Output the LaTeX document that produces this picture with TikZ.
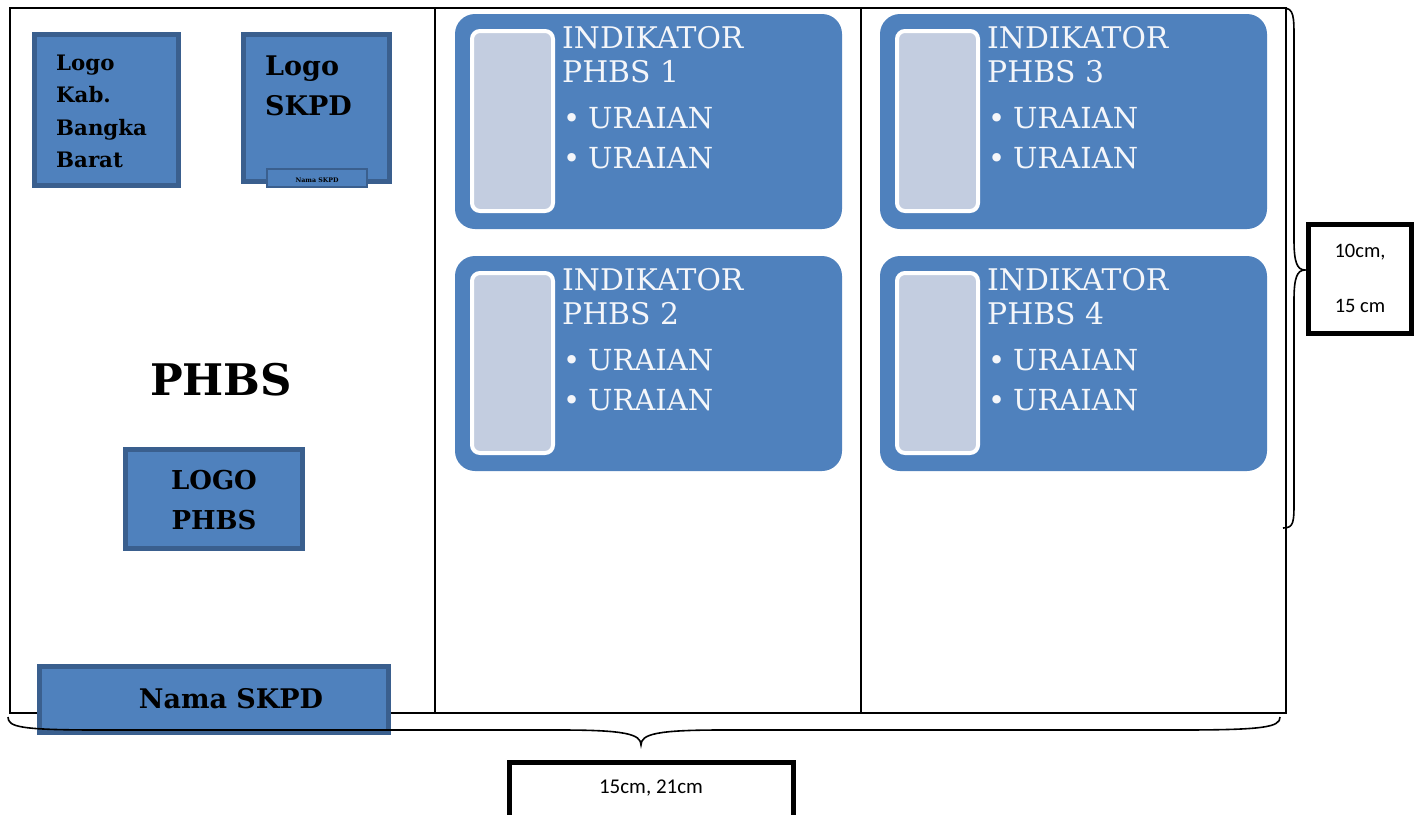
\documentclass[tikz,border=0pt]{standalone}
\usepackage{fontspec}
\setmainfont{DejaVu Serif}
\newfontfamily\dimfont{Carlito}
\definecolor{fillblue}{HTML}{4F81BD}
\definecolor{bordblue}{HTML}{3A5F8E}
\definecolor{panel}{HTML}{C3CDE0}
\definecolor{wtext}{HTML}{F4F6FA}
\tikzset{
  logobox/.style={draw=bordblue, line width=5pt, fill=fillblue, inner sep=0pt},
  thinbox/.style={draw=bordblue, line width=2pt, fill=fillblue, inner sep=0pt},
  indbox/.style={fill=fillblue, rounded corners=20pt},
  panelbox/.style={draw=white, line width=4pt, fill=panel, rounded corners=8pt},
  btxt/.style={inner sep=0pt, font=\bfseries\fontsize{#1}{#1}\selectfont},
  itxt/.style={inner sep=0pt, text=wtext, font=\fontsize{#1}{#1}\selectfont, anchor=base west},
  frame/.style={line width=1.6pt},
  bracepath/.style={line width=1.6pt},
  dimbox/.style={draw, line width=5pt, fill=white, inner sep=0pt},
  dimtxt/.style={inner sep=0pt, font=\dimfont\fontsize{#1}{#1}\selectfont},
}
\begin{document}
\begin{tikzpicture}[x=1pt,y=-1pt]
\useasboundingbox (0,0) rectangle (1421,814);
% outer frame
\draw[frame] (10,8) rectangle (1286,713);
\draw[frame] (435,8) -- (435,713);
\draw[frame] (861,8) -- (861,713);

% Logo Kab. Bangka Barat
\node[logobox, minimum width=144pt, minimum height=151pt] (lkab) at (106.5,110) {};
\foreach \t/\y [count=\i] in {Logo/70, Kab./102, Bangka/135, Barat/167}
  \node[btxt=21.3, anchor=base west] (lk\i) at (56,\y) {\t};

% Logo SKPD
\node[logobox, minimum width=146pt, minimum height=147pt] (lskpd) at (316.5,108) {};
\node[btxt=27, anchor=base west] (ls1) at (265,75) {Logo};
\node[btxt=27, anchor=base west] (ls2) at (265,115) {SKPD};
\node[thinbox, minimum width=100pt, minimum height=18pt] (nsmall) at (316.5,178) {};
\node[btxt=6.3, anchor=base] (nsmalltxt) at (317,182) {Nama SKPD};

% PHBS title
\node[btxt=43.5, anchor=base] (phbs) at (221,395) {PHBS};

% LOGO PHBS
\node[logobox, minimum width=177pt, minimum height=99pt] (lphbs) at (214,499) {};
\node[btxt=26, anchor=base] (lp1) at (214,489) {LOGO};
\node[btxt=26, anchor=base] (lp2) at (214,529) {PHBS};

% Nama SKPD bottom
\node[logobox, minimum width=349pt, minimum height=66pt] (nbig) at (214,699.5) {};
\node[btxt=27, anchor=base] (nbigtxt) at (231,708) {Nama SKPD};

% indicator boxes
\foreach \n/\x/\y in {1/455/14, 2/455/256, 3/880/14, 4/880/256} {
  \fill[indbox] (\x,\y) rectangle ++(387,215);
  \draw[panelbox] (\x+17,\y+17) rectangle ++(81,180);
  \node[itxt=29.8] (ti\n) at (\x+107,\y+34) {INDIKATOR};
  \node[itxt=29.8] (tp\n) at (\x+107,\y+68) {PHBS \n};
  \node[itxt=29] (b1\n) at (\x+108,\y+114) {\textbullet};
  \node[itxt=29] (u1\n) at (\x+133,\y+114) {URAIAN};
  \node[itxt=29] (b2\n) at (\x+108,\y+154) {\textbullet};
  \node[itxt=29] (u2\n) at (\x+133,\y+154) {URAIAN};
}

% right brace
\draw[bracepath] (1283,8) .. controls (1294,8) and (1294,16) .. (1294,40) -- (1294,240)
  .. controls (1294,262) and (1297,270) .. (1305,270)
  .. controls (1297,270) and (1294,278) .. (1294,300) -- (1294,500)
  .. controls (1294,522) and (1294,528) .. (1283,528);
\node[dimbox, minimum width=103pt, minimum height=109pt] (rbox) at (1360,279) {};
\node[dimtxt=20.5] (rt1) at (1360,252) {10cm,};
\node[dimtxt=20.5] (rt2) at (1360,306) {15 cm};

% bottom brace
\draw[bracepath] (8,717) .. controls (8,727) and (20,730) .. (100,730) -- (560,730)
  .. controls (625,730) and (641,734) .. (641,745)
  .. controls (641,734) and (657,730) .. (722,730) -- (1180,730)
  .. controls (1265,730) and (1280,727) .. (1280,717);
\node[dimbox, minimum width=284pt, minimum height=80pt] (bbox) at (651.5,802) {};
\node[dimtxt=21] (bt) at (651,788) {15cm, 21cm};
\end{tikzpicture}
\end{document}
